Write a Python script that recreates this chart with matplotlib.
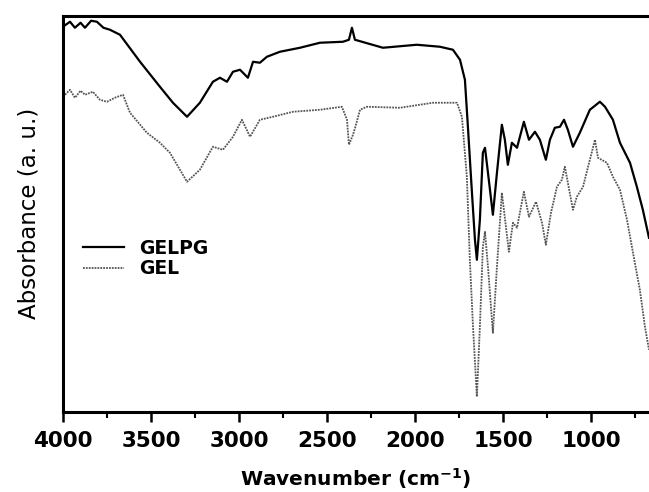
import matplotlib.pyplot as plt
from matplotlib.ticker import MultipleLocator

# GELPG spectrum (wavenumber, absorbance a.u.)
wn_gelpg = [4000, 3960, 3932, 3900, 3875, 3840, 3807, 3770, 3733, 3676, 3562, 3449, 3375, 3295,
            3222, 3148, 3108, 3068, 3034, 2994, 2949, 2920, 2881, 2841, 2767, 2653, 2540, 2409,
            2375, 2358, 2341, 2182, 1989, 1858, 1784, 1744, 1716, 1699, 1676, 1659, 1648, 1631,
            1614, 1602, 1585, 1557, 1534, 1506, 1489, 1472, 1449, 1420, 1381, 1352, 1318, 1290,
            1256, 1233, 1205, 1176, 1153, 1131, 1102, 1063, 1006, 949, 920, 875, 835, 778, 739,
            705, 670]
abs_gelpg = [3.85, 3.90, 3.84, 3.89, 3.84, 3.91, 3.90, 3.84, 3.82, 3.77, 3.50, 3.25, 3.09, 2.95,
             3.09, 3.30, 3.34, 3.30, 3.40, 3.42, 3.34, 3.50, 3.49, 3.55, 3.60, 3.64, 3.69, 3.70,
             3.72, 3.84, 3.72, 3.64, 3.67, 3.65, 3.62, 3.52, 3.32, 2.85, 2.19, 1.72, 1.52, 1.92,
             2.59, 2.64, 2.39, 1.97, 2.39, 2.87, 2.72, 2.47, 2.69, 2.64, 2.90, 2.72, 2.80, 2.72,
             2.52, 2.72, 2.84, 2.85, 2.92, 2.82, 2.65, 2.79, 3.02, 3.10, 3.05, 2.92, 2.69, 2.49,
             2.25, 2.02, 1.74]

# GEL spectrum
wn_gel = [4000, 3960, 3932, 3900, 3875, 3830, 3790, 3750, 3705, 3659, 3619, 3523, 3449, 3392,
          3295, 3222, 3148, 3091, 3034, 2983, 2937, 2881, 2807, 2693, 2540, 2415, 2386, 2375,
          2352, 2335, 2312, 2273, 2085, 1898, 1761, 1733, 1705, 1688, 1670, 1648, 1631, 1614,
          1602, 1585, 1557, 1534, 1506, 1483, 1466, 1443, 1420, 1381, 1352, 1312, 1278, 1256,
          1227, 1193, 1165, 1148, 1131, 1102, 1080, 1045, 1006, 977, 960, 909, 875, 835, 795,
          761, 722, 693, 670]
abs_gel = [3.15, 3.22, 3.14, 3.21, 3.17, 3.20, 3.12, 3.10, 3.14, 3.17, 2.99, 2.79, 2.69, 2.59,
           2.30, 2.42, 2.65, 2.62, 2.75, 2.92, 2.75, 2.92, 2.95, 3.00, 3.02, 3.05, 2.92, 2.67,
           2.77, 2.87, 3.02, 3.05, 3.04, 3.09, 3.09, 2.95, 2.35, 1.52, 0.85, 0.15, 0.85, 1.65,
           1.80, 1.45, 0.79, 1.45, 2.19, 1.85, 1.60, 1.89, 1.84, 2.20, 1.95, 2.10, 1.89, 1.67,
           1.99, 2.25, 2.32, 2.45, 2.29, 2.02, 2.15, 2.25, 2.52, 2.72, 2.54, 2.49, 2.35, 2.22,
           1.92, 1.59, 1.22, 0.85, 0.62]

fig = plt.figure(figsize=(6.49, 4.92), dpi=100)
ax = fig.add_axes([0.097, 0.163, 0.903, 0.805])

ax.plot(wn_gelpg, abs_gelpg, color='black', lw=1.6, label='GELPG')
ax.plot(wn_gel, abs_gel, color='#555555', lw=1.3, ls=(0, (1, 0.6)), label='GEL')

ax.set_xlim(4000, 670)
ax.set_ylim(0, 3.96)
ax.set_yticks([])
ax.xaxis.set_major_locator(MultipleLocator(500))
ax.xaxis.set_minor_locator(MultipleLocator(250))
ax.tick_params(axis='x', which='major', direction='out', length=7, width=1.8, pad=7)
ax.tick_params(axis='x', which='minor', direction='out', length=4, width=1.5)
for lab in ax.get_xticklabels():
    lab.set_fontweight('bold')
    lab.set_fontsize(15.5)

for s in ['left', 'bottom', 'top']:
    ax.spines[s].set_linewidth(2.2)
ax.spines['right'].set_visible(False)

ax.set_xlabel('Wavenumber (cm$^{\\mathbf{-1}}$)', fontsize=14.5, fontweight='bold', labelpad=11)
ax.set_ylabel('Absorbance (a. u.)', fontsize=16.5, labelpad=16)

leg = ax.legend(loc='upper left', bbox_to_anchor=(0.005, 0.48), frameon=False,
                prop={'weight': 'bold', 'size': 13.5}, handlelength=2.2, labelspacing=0.1,
                handletextpad=0.8)

fig.savefig('out.png', dpi=100)
